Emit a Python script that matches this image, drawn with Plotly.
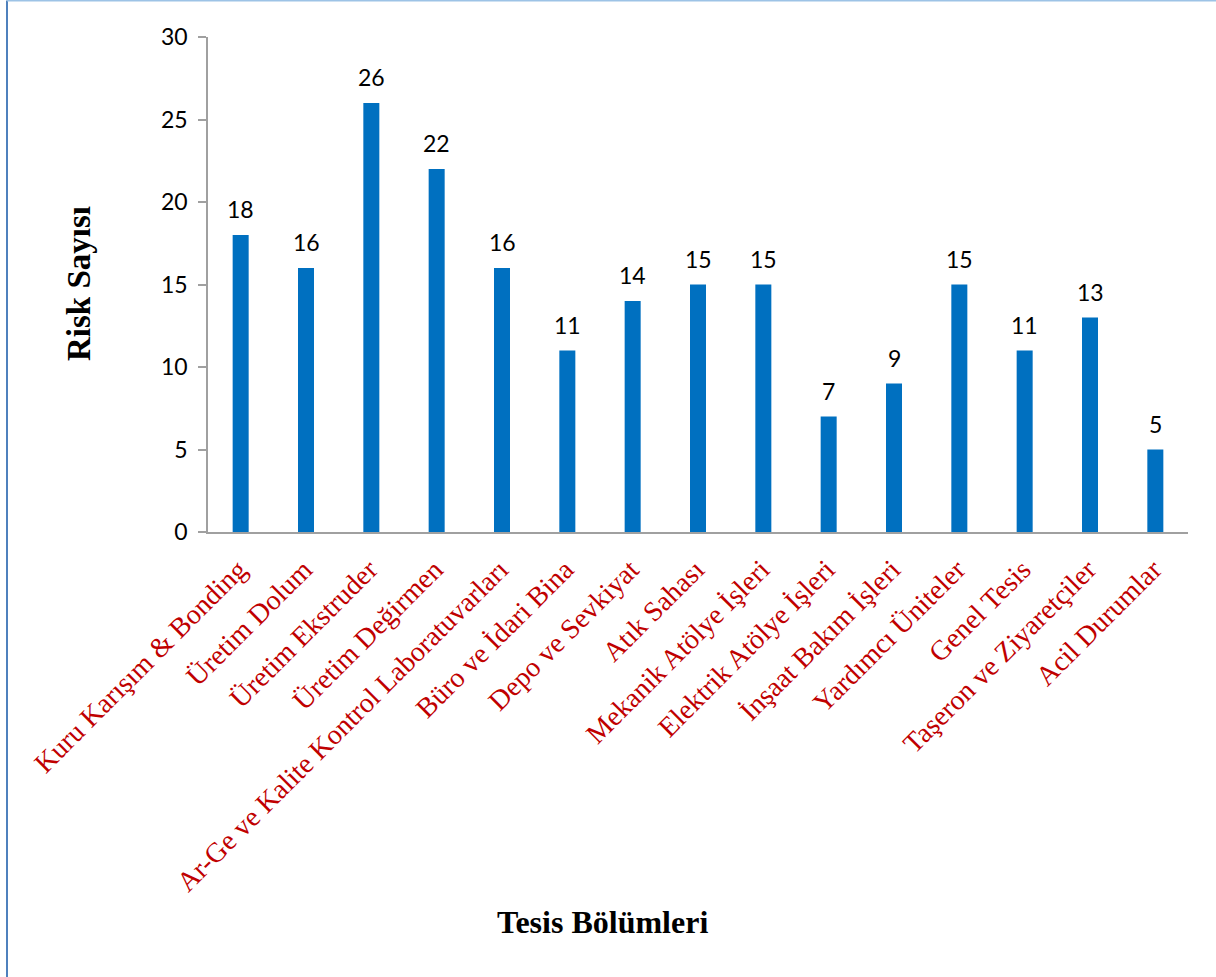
import plotly.graph_objects as go

categories = [
    "Kuru Karışım & Bonding", "Üretim Dolum", "Üretim Ekstruder", "Üretim Değirmen",
    "Ar-Ge ve Kalite Kontrol Laboratuvarları", "Büro ve İdari Bina", "Depo ve Sevkiyat",
    "Atık Sahası", "Mekanik Atölye İşleri", "Elektrik Atölye İşleri", "İnşaat Bakım İşleri",
    "Yardımcı Üniteler", "Genel Tesis", "Taşeron ve Ziyaretçiler", "Acil Durumlar",
]
risk_counts = [18, 16, 26, 22, 16, 11, 14, 15, 15, 7, 9, 15, 11, 13, 5]
y_ticks = [0, 5, 10, 15, 20, 25, 30]

W, H = 1216, 977
ML, MR, MT, MB = 208, 28, 37, 445

fig = go.Figure()
fig.add_trace(go.Bar(
    x=categories, y=risk_counts,
    marker=dict(color="#0070C0", line=dict(width=0)),
    hoverinfo="x+y",
))

# data labels
for c, v in zip(categories, risk_counts):
    fig.add_annotation(x=c, y=v, text=str(v), showarrow=False,
                       yanchor="bottom", yshift=10,
                       font=dict(family="Lato, Open Sans, sans-serif", size=23, color="#000000"))

# axis titles
fig.add_annotation(xref="paper", yref="paper",
                   x=(602 - ML) / (W - ML - MR), y=-(922 - (H - MB)) / (H - MT - MB),
                   text="<b>Tesis Bölümleri</b>", showarrow=False,
                   xanchor="center", yanchor="middle",
                   font=dict(family="Liberation Serif, Times New Roman, serif", size=32, color="#000000"))
fig.add_annotation(xref="paper", yref="paper",
                   x=-(ML - 79) / (W - ML - MR), y=(H - MB - 284) / (H - MT - MB),
                   text="<b>Risk Sayısı</b>", showarrow=False, textangle=-90,
                   xanchor="center", yanchor="middle",
                   font=dict(family="Liberation Serif, Times New Roman, serif", size=33, color="#000000"))

# outer frame lines (left and top)
pw, ph = W - ML - MR, H - MT - MB
fig.add_shape(type="line", xref="paper", yref="paper",
              x0=(7 - ML) / pw, x1=(7 - ML) / pw, y0=-(H - MT - 2 - MT) / ph - 0.0, y1=(MT - 0.5) / ph + 1,
              line=dict(color="#4F81BD", width=2), layer="above")
fig.add_shape(type="line", xref="paper", yref="paper",
              x0=(7 - ML) / pw, x1=(W - ML) / pw, y0=(MT - 0.5) / ph + 1, y1=(MT - 0.5) / ph + 1,
              line=dict(color="#9DC3E6", width=2), layer="above")

fig.update_layout(
    width=W, height=H,
    margin=dict(l=ML, r=MR, t=MT, b=MB, autoexpand=False),
    paper_bgcolor="white", plot_bgcolor="white",
    bargap=0.755,
    showlegend=False,
    xaxis=dict(
        type="category", tickangle=-45, showgrid=False, zeroline=False,
        showline=True, linecolor="#A0A0A0", linewidth=2, ticks="",
        tickfont=dict(family="Liberation Serif, Times New Roman, serif", size=28, color="#C00000"),
        ticklabelshift=-2, ticklabelstandoff=8,
    ),
    yaxis=dict(
        range=[0, 30], tickvals=y_ticks, showgrid=False, zeroline=False,
        showline=True, linecolor="#A0A0A0", linewidth=1.5,
        ticks="outside", ticklen=8, tickcolor="#A0A0A0", tickwidth=1.5,
        tickfont=dict(family="Lato, Open Sans, sans-serif", size=23, color="#000000"),
        ticklabelstandoff=6,
    ),
)

fig.write_html("out.html")
